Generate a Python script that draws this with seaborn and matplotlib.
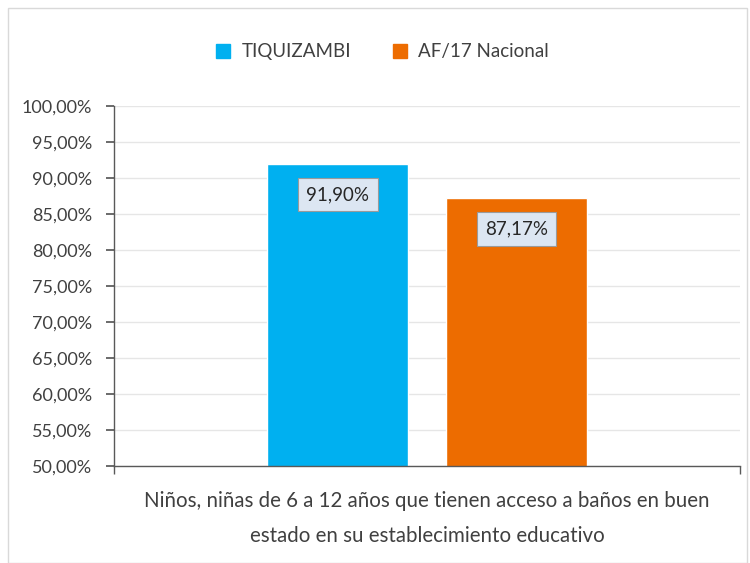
import matplotlib
matplotlib.use("Agg")
import matplotlib.pyplot as plt
import matplotlib.patches as mpatches
from matplotlib.ticker import FuncFormatter, MultipleLocator
import seaborn as sns
import pandas as pd

category = ["Niños, niñas de 6 a 12 años que tienen acceso a baños en buen\nestado en su establecimiento educativo"]
series = ["TIQUIZAMBI", "AF/17 Nacional"]
values = [91.90, 87.17]
colors = ["#00B0F0", "#ED6C00"]

df = pd.DataFrame({"cat": category * len(series), "serie": series, "valor": values})

sns.set_theme(style="white")
plt.rcParams["font.family"] = ["Lato", "DejaVu Sans"]

fig = plt.figure(figsize=(7.5, 5.63), dpi=100)
ax = fig.add_axes([0.152, 0.1723, 0.8347, 0.6395])

sns.barplot(data=df, x="cat", y="valor", hue="serie", palette=colors,
            width=0.8, gap=0.215, ax=ax, legend=False, saturation=1)

ax.set_ylim(50, 100)
ax.set_xlim(-0.70, 0.70)
ax.yaxis.set_major_locator(MultipleLocator(5))
ax.yaxis.set_major_formatter(FuncFormatter(lambda v, p: f"{v:.2f}".replace(".", ",") + "%"))
ax.grid(axis="y", color="#E6E6E6", linewidth=1)
ax.set_axisbelow(True)
for s in ["top", "right"]:
    ax.spines[s].set_visible(False)
for s in ["left", "bottom"]:
    ax.spines[s].set_color("#595959")
    ax.spines[s].set_linewidth(1)
ax.tick_params(axis="y", left=True, length=6, color="#595959", labelsize=13, labelcolor="#404040", pad=10)
ax.tick_params(axis="x", bottom=False, labelsize=14.8, labelcolor="#404040", pad=12)
ax.set_xticks([0])
ax.set_xticklabels(category, linespacing=1.95)
ax.set_xlabel("")
ax.set_ylabel("")
# category boundary ticks
ax.set_xticks([-0.70, 0.70], minor=True)
ax.tick_params(axis="x", which="minor", bottom=True, length=6, color="#595959")

for bar, v in zip(ax.patches, values):
    cx = bar.get_x() + bar.get_width() / 2
    ax.text(cx, v - 4.2, f"{v:.2f}".replace(".", ",") + "%", ha="center", va="center",
            fontsize=13.5, color="#262626",
            bbox=dict(boxstyle="square,pad=0.45", facecolor="#DCE6F2", edgecolor="#9A9A9A", linewidth=0.8))

handles = [mpatches.Patch(color=c, label=s) for c, s in zip(colors, series)]
fig.legend(handles=handles, loc="center", bbox_to_anchor=(0.51, 0.908), ncol=2, frameon=False,
           fontsize=13.5, handlelength=0.75, handleheight=0.75, handletextpad=0.6, columnspacing=2.2,
           labelcolor="#404040")

border = mpatches.Rectangle((0.011, 0.0), 0.985, 0.985, transform=fig.transFigure, fill=False,
                            edgecolor="#D9D9D9", linewidth=1)
fig.patches.append(border)

fig.savefig("out.png", dpi=100)
